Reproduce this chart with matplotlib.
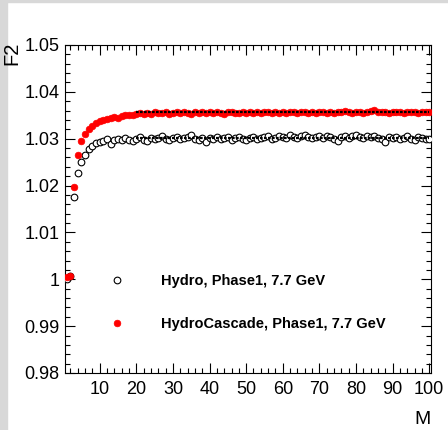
import numpy as np
import matplotlib
matplotlib.use('Agg')
import matplotlib.pyplot as plt
from matplotlib.patches import Rectangle
from matplotlib.ticker import FixedLocator, MultipleLocator

plt.rcParams['font.family'] = ['Liberation Sans', 'DejaVu Sans']

# multiplicity M = 1..100
m_vals = np.arange(1, 101)

hydro_f2 = [
    1.0000, 1.0006, 1.0176, 1.0227, 1.0251, 1.0266, 1.0279, 1.0285, 1.0290, 1.0294,
    1.0296, 1.0299, 1.0288, 1.0298, 1.0299, 1.0297, 1.0301, 1.0298, 1.0296, 1.0300,
    1.0303, 1.0298, 1.0296, 1.0301, 1.0299, 1.0302, 1.0306, 1.0300, 1.0298, 1.0301,
    1.0303, 1.0299, 1.0301, 1.0304, 1.0308, 1.0300, 1.0298, 1.0302, 1.0293, 1.0301,
    1.0300, 1.0303, 1.0299, 1.0302, 1.0304, 1.0298, 1.0301, 1.0303, 1.0300, 1.0297,
    1.0302, 1.0304, 1.0299, 1.0301, 1.0303, 1.0305, 1.0300, 1.0302, 1.0306, 1.0303,
    1.0301, 1.0308, 1.0304, 1.0302, 1.0305, 1.0307, 1.0303, 1.0301, 1.0304, 1.0306,
    1.0302, 1.0305, 1.0303, 1.0300, 1.0295, 1.0304, 1.0306, 1.0302, 1.0305, 1.0307,
    1.0304, 1.0301, 1.0306, 1.0303, 1.0305, 1.0302, 1.0300, 1.0292, 1.0303, 1.0301,
    1.0304, 1.0299, 1.0302, 1.0305, 1.0300, 1.0298, 1.0303, 1.0301, 1.0299, 1.0300,
]
casc_f2 = [
    1.0004, 1.0007, 1.0196, 1.0265, 1.0296, 1.0311, 1.0320, 1.0328, 1.0333, 1.0337,
    1.0341, 1.0343, 1.0345, 1.0346, 1.0345, 1.0348, 1.0350, 1.0351, 1.0350, 1.0353,
    1.0354, 1.0352, 1.0355, 1.0353, 1.0356, 1.0354, 1.0355, 1.0357, 1.0353, 1.0355,
    1.0356, 1.0354, 1.0357, 1.0355, 1.0353, 1.0356, 1.0354, 1.0356, 1.0355, 1.0357,
    1.0354, 1.0356, 1.0355, 1.0353, 1.0356, 1.0358, 1.0355, 1.0354, 1.0356, 1.0355,
    1.0357, 1.0354, 1.0356, 1.0355, 1.0358, 1.0356, 1.0354, 1.0357, 1.0355, 1.0356,
    1.0354, 1.0357, 1.0356, 1.0355, 1.0358, 1.0356, 1.0354, 1.0357, 1.0355, 1.0356,
    1.0358, 1.0355, 1.0357, 1.0354, 1.0356, 1.0358, 1.0360, 1.0357, 1.0355, 1.0356,
    1.0358, 1.0355, 1.0357, 1.0359, 1.0361, 1.0358, 1.0356, 1.0357, 1.0355, 1.0358,
    1.0356, 1.0357, 1.0355, 1.0358, 1.0356, 1.0357, 1.0355, 1.0357, 1.0356, 1.0358,
]
hydro_err = 0.0003
casc_err = 0.0002

# constant fits over the plateau
fit_range = [20, 100]
hydro_fit = 1.0302
casc_fit = 1.0356

y_ticks = [0.98, 0.99, 1.00, 1.01, 1.02, 1.03, 1.04, 1.05]
y_ticklabels = ['0.98', '0.99', '1', '1.01', '1.02', '1.03', '1.04', '1.05']
x_ticks = [10, 20, 30, 40, 50, 60, 70, 80, 90, 100]

fig = plt.figure(figsize=(4.48, 4.30), dpi=100)
ax = fig.add_axes([65 / 448, 57 / 430, 366 / 448, 328 / 430])

# grey canvas edge like the ROOT window
fig.patches.append(Rectangle((0, 0), 7 / 448, 1, transform=fig.transFigure,
                             color='#d8d8d8', zorder=0))
fig.patches.append(Rectangle((0, 1 - 2 / 430), 1, 2 / 430, transform=fig.transFigure,
                             color='#d8d8d8', zorder=0))

h1 = ax.errorbar(m_vals, hydro_f2, yerr=hydro_err, fmt='o', ms=4.8, mfc='white',
                 mec='black', mew=0.8, ecolor='black', elinewidth=0.8, zorder=3)
h2 = ax.errorbar(m_vals, casc_f2, yerr=casc_err, fmt='o', ms=4.8, mfc='red',
                 mec='red', mew=0.5, ecolor='black', elinewidth=0.8, zorder=4)

ax.plot(fit_range, [hydro_fit, hydro_fit], color='black', lw=1.6,
        ls=(0, (1.2, 0.6)), zorder=5)
ax.plot(fit_range, [casc_fit, casc_fit], color='black', lw=1.6,
        ls=(0, (1.2, 0.6)), zorder=5)

ax.set_xlim(0.5, 100.5)
ax.set_ylim(0.98, 1.05)
ax.xaxis.set_major_locator(FixedLocator(x_ticks))
ax.xaxis.set_minor_locator(MultipleLocator(2))
ax.set_yticks(y_ticks)
ax.set_yticklabels(y_ticklabels)
ax.yaxis.set_minor_locator(MultipleLocator(0.002))

ax.tick_params(which='both', direction='in', top=True, right=True,
               labelsize=13, width=0.8)
ax.tick_params(axis='y', pad=4)
ax.tick_params(axis='x', pad=6)
ax.tick_params(which='major', length=7.2)
ax.tick_params(which='minor', length=3.6)
for sp in ax.spines.values():
    sp.set_linewidth(0.8)

ax.set_xlabel('M', loc='right', fontsize=14)
ax.xaxis.set_label_coords(1.0, -0.116)
fig.text(12 / 448, 1 - 42 / 430, 'F2', rotation=90, ha='center', va='top',
         fontsize=14.5)

ax.legend([h1[0], h2[0]],
          ['Hydro, Phase1, 7.7 GeV', 'HydroCascade, Phase1, 7.7 GeV'],
          loc='upper left', bbox_to_anchor=(0.1035, 0.302), frameon=False,
          borderpad=0, borderaxespad=0, handlelength=2.0,
          handletextpad=2.0, labelspacing=2.0,
          prop={'weight': 'bold', 'size': 10.5})

fig.savefig('out.png', dpi=100)
